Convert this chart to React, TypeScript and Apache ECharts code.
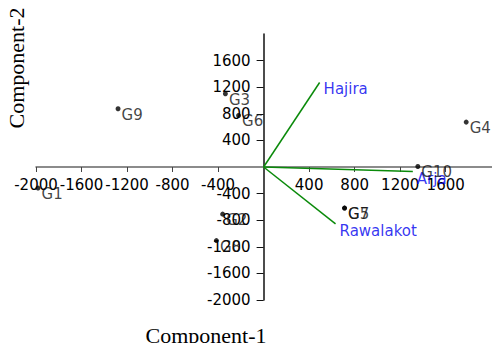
import React, { useEffect, useRef } from "react";
import * as echarts from "echarts";

// Genotype scores (Component-1, Component-2)
const genotypes = ["G1", "G9", "G3", "G6", "G4", "G10", "G5", "G7", "G2", "G8"];
const comp1 = [-1982, -1279, -336, -220, 1780, 1355, 711, 711, -360, -415];
const comp2 = [-317, 876, 1101, 775, 675, 8, -618, -618, -709, -1106];

// Environment vectors
const environments = ["Hajira", "Arja", "Rawalakot"];
const envX = [492, 1311, 632];
const envY = [1271, -68, -855];

const tickValues = [-2000, -1600, -1200, -800, -400, 400, 800, 1200, 1600];

const xTitle = "Component-1";
const yTitle = "Component-2";

export default function App() {
  const ref = useRef<HTMLDivElement>(null);
  useEffect(() => {
    if (!ref.current) return;
    document.documentElement.style.overflow = "hidden";
    document.body.style.overflow = "hidden";
    document.body.style.margin = "0";
    const chart = echarts.init(ref.current, null, { renderer: "svg" });
    const labelFont = { fontFamily: "DejaVu Sans", fontSize: 15 };
    const fmt = (v: number) => (tickValues.indexOf(v) >= 0 ? String(v) : "");
    const vectorSeries = environments.map((name, i) => ({
      type: "line",
      name,
      data: [
        [0, 0],
        [envX[i], envY[i]],
      ],
      symbol: "none",
      lineStyle: { color: "#0a8a0a", width: 1.5 },
      silent: true,
      z: 2,
    }));
    const gridLeft = 36;
    const gridTop = 34;
    const gridBottom = 43;
    const gridH = 343 - gridTop - gridBottom;
    const xMin = -2000, xMax = 2200, yMin = -2000, yMax = 2000;
    const gridW = 492 - gridLeft + 22;
    // pixel offsets so that the axes sit on the zero lines
    const xOffset = -(gridH * (0 - yMin)) / (yMax - yMin);
    const yOffset = -(gridW * (0 - xMin)) / (xMax - xMin);
    chart.setOption({
      animation: false,
      grid: { left: gridLeft, right: -22, top: gridTop, bottom: gridBottom, outerBoundsMode: "none", containLabel: false },
      xAxis: {
        type: "value",
        min: xMin,
        max: xMax,
        interval: 400,
        position: "bottom",
        offset: xOffset,
        axisLine: { onZero: false, lineStyle: { color: "#666", width: 1.5 } },
        axisTick: { length: 5, customValues: tickValues, lineStyle: { color: "#444" } },
        axisLabel: {
          formatter: fmt,
          margin: 10,
          color: "#000",
          showMaxLabel: false,
          ...labelFont,
        },
        splitLine: { show: false },
      },
      yAxis: {
        type: "value",
        min: yMin,
        max: yMax,
        interval: 400,
        position: "left",
        offset: yOffset,
        axisLine: { onZero: false, lineStyle: { color: "#111", width: 1.5 } },
        axisTick: { length: 7, customValues: tickValues, lineStyle: { color: "#111" } },
        axisLabel: {
          formatter: fmt,
          margin: 13,
          color: "#000",
          showMaxLabel: false,
          ...labelFont,
        },
        splitLine: { show: false },
      },
      series: [
        ...vectorSeries,
        {
          type: "scatter",
          data: envX.map((x, i) => ({ value: [x, envY[i]], name: environments[i] })),
          symbolSize: 0,
          silent: true,
          label: {
            show: true,
            formatter: (p: any) => p.name,
            position: "right",
            distance: 4,
            offset: [0, 7],
            color: "#0000ee",
            ...labelFont,
          },
          z: 4,
        },
        {
          type: "scatter",
          data: comp1.map((x, i) => ({ value: [x, comp2[i]], name: genotypes[i] })),
          symbolSize: 5,
          itemStyle: { color: "#000" },
          silent: true,
          label: {
            show: true,
            formatter: (p: any) => p.name,
            position: "right",
            distance: 1,
            offset: [0, 6],
            color: "#111",
            ...labelFont,
          },
          z: 5,
        },
      ],
      graphic: [
        {
          type: "text",
          x: 206,
          y: 335,
          style: {
            text: xTitle,
            fontFamily: "Liberation Serif",
            fontSize: 22,
            fill: "#000",
            align: "center",
            verticalAlign: "middle",
          },
        },
        {
          type: "text",
          x: 16,
          y: 68,
          rotation: Math.PI / 2,
          style: {
            text: yTitle,
            fontFamily: "Liberation Serif",
            fontSize: 22,
            fill: "#000",
            align: "center",
            verticalAlign: "middle",
          },
        },
      ],
    });
    return () => chart.dispose();
  }, []);
  return <div ref={ref} style={{ width: 492, height: 343, overflow: "hidden" }} />;
}
